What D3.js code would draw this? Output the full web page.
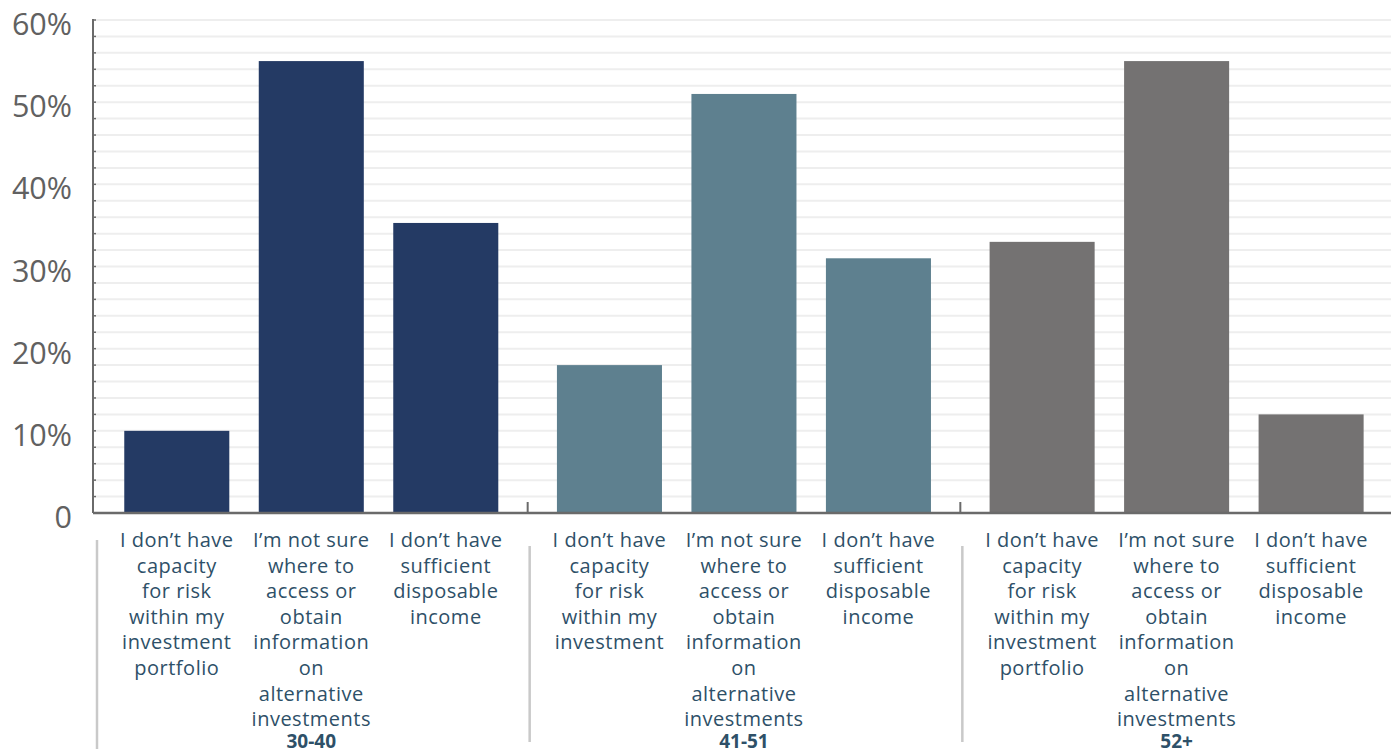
<!DOCTYPE html>
<html>
<head>
<meta charset="utf-8">
<script src="https://cdn.jsdelivr.net/npm/d3@7"></script>
<style>
  html, body { margin: 0; padding: 0; background: #fff; }
  svg { display: block; font-family: "Open Sans", sans-serif; }
</style>
</head>
<body>
<svg id="chart" width="1391" height="749"></svg>
<script>
// Age groups and the reasons given, with the share (%) choosing each
const ageGroups = ["30-40", "41-51", "52+"];
const reasons = ["capacity", "access", "income"];
const values3040 = [10, 55, 35.3];
const values4151 = [18, 51, 31];
const values52plus = [33, 55, 12];
const groupColors = ["#243a64", "#5e808f", "#747272"];

// Wrapped category labels under each bar, per age group
const labels3040 = [
  ["I don’t have", "capacity", "for risk", "within my", "investment", "portfolio"],
  ["I’m not sure", "where to", "access or", "obtain", "information", "on", "alternative", "investments"],
  ["I don’t have", "sufficient", "disposable", "income"]
];
const labels4151 = [
  ["I don’t have", "capacity", "for risk", "within my", "investment"],
  ["I’m not sure", "where to", "access or", "obtain", "information", "on", "alternative", "investments"],
  ["I don’t have", "sufficient", "disposable", "income"]
];
const labels52plus = labels3040;

const yTickValues = [0, 10, 20, 30, 40, 50, 60];
const yTickLabels = ["0", "10%", "20%", "30%", "40%", "50%", "60%"];
const gridValues = d3.range(2, 61, 2);

const seriesByGroup = [values3040, values4151, values52plus];
const labelsByGroup = [labels3040, labels4151, labels52plus];

const svg = d3.select("#chart");
const axisLeft = 93, plotTop = 20, plotBottom = 513;

const x0 = d3.scaleBand().domain(ageGroups).range([97, 1395]);
const x1 = d3.scaleBand().domain(reasons).range([0, x0.bandwidth()])
  .paddingInner(0.219).paddingOuter(0.218).align(0.465);
const y = d3.scaleLinear().domain([0, 60]).range([plotBottom, plotTop]);

// light horizontal gridlines every 2%
svg.append("g").selectAll("line").data(gridValues).join("line")
  .attr("x1", axisLeft + 2).attr("x2", 1391)
  .attr("y1", d => y(d)).attr("y2", d => y(d))
  .attr("stroke", "#eeeeee").attr("stroke-width", 2);

// bars
const groupG = svg.append("g").selectAll("g").data(ageGroups).join("g")
  .attr("transform", g => `translate(${x0(g)},0)`);

groupG.each(function (g, gi) {
  const vals = seriesByGroup[gi];
  d3.select(this).selectAll("rect").data(reasons).join("rect")
    .attr("x", r => x1(r))
    .attr("width", x1.bandwidth())
    .attr("y", (r, i) => y(vals[i]))
    .attr("height", (r, i) => y(0) - y(vals[i]))
    .attr("fill", groupColors[gi]);
});

// left axis with small inward ticks
const yAxisG = svg.append("g");
yAxisG.append("line")
  .attr("x1", axisLeft).attr("x2", axisLeft).attr("y1", plotTop - 1).attr("y2", plotBottom)
  .attr("stroke", "#6a6a6a").attr("stroke-width", 2);
yAxisG.selectAll("line.tk").data(gridValues).join("line").attr("class", "tk")
  .attr("x1", axisLeft).attr("x2", axisLeft + 3)
  .attr("y1", d => y(d)).attr("y2", d => y(d))
  .attr("stroke", "#6a6a6a").attr("stroke-width", 1.5);

// y tick labels
svg.append("g").selectAll("text").data(yTickValues).join("text")
  .attr("x", 72).attr("y", d => y(d) + 7)
  .attr("text-anchor", "end").attr("dominant-baseline", "middle")
  .attr("font-size", 30.5).attr("fill", "#616161")
  .text((d, i) => yTickLabels[i]);

// bottom axis line with ticks at group boundaries
svg.append("line")
  .attr("x1", axisLeft).attr("x2", 1391).attr("y1", plotBottom).attr("y2", plotBottom)
  .attr("stroke", "#6a6a6a").attr("stroke-width", 2.5);
svg.append("g").selectAll("line").data(ageGroups.slice(1)).join("line")
  .attr("x1", g => x0(g) - 2).attr("x2", g => x0(g) - 2)
  .attr("y1", plotBottom).attr("y2", plotBottom - 11)
  .attr("stroke", "#6a6a6a").attr("stroke-width", 2);

// separators between age groups below the axis
svg.append("g").selectAll("line").data(ageGroups).join("line")
  .attr("x1", g => x0(g)).attr("x2", g => x0(g))
  .attr("y1", (g, i) => i === 0 ? 540 : 546)
  .attr("y2", (g, i) => i === 0 ? 749 : 742)
  .attr("stroke", "#c9c9c9").attr("stroke-width", 2.5);

// category labels
const lineH = 25.6;
groupG.each(function (g, gi) {
  const lbls = labelsByGroup[gi];
  d3.select(this).selectAll("text.cat").data(reasons).join("text").attr("class", "cat")
    .attr("text-anchor", "middle")
    .attr("font-size", 20).attr("letter-spacing", 0.5).attr("fill", "#2e5068")
    .each(function (r, i) {
      const t = d3.select(this);
      lbls[i].forEach((ln, k) => {
        t.append("tspan")
          .attr("x", x1(r) + x1.bandwidth() / 2)
          .attr("y", 547 + k * lineH)
          .text(ln);
      });
    });
  // age group label under the middle bar
  d3.select(this).append("text")
    .attr("x", x1(reasons[1]) + x1.bandwidth() / 2)
    .attr("y", 748)
    .attr("text-anchor", "middle")
    .attr("font-size", 19).attr("font-weight", 700).attr("fill", "#2e5068")
    .text(g);
});
</script>
</body>
</html>
